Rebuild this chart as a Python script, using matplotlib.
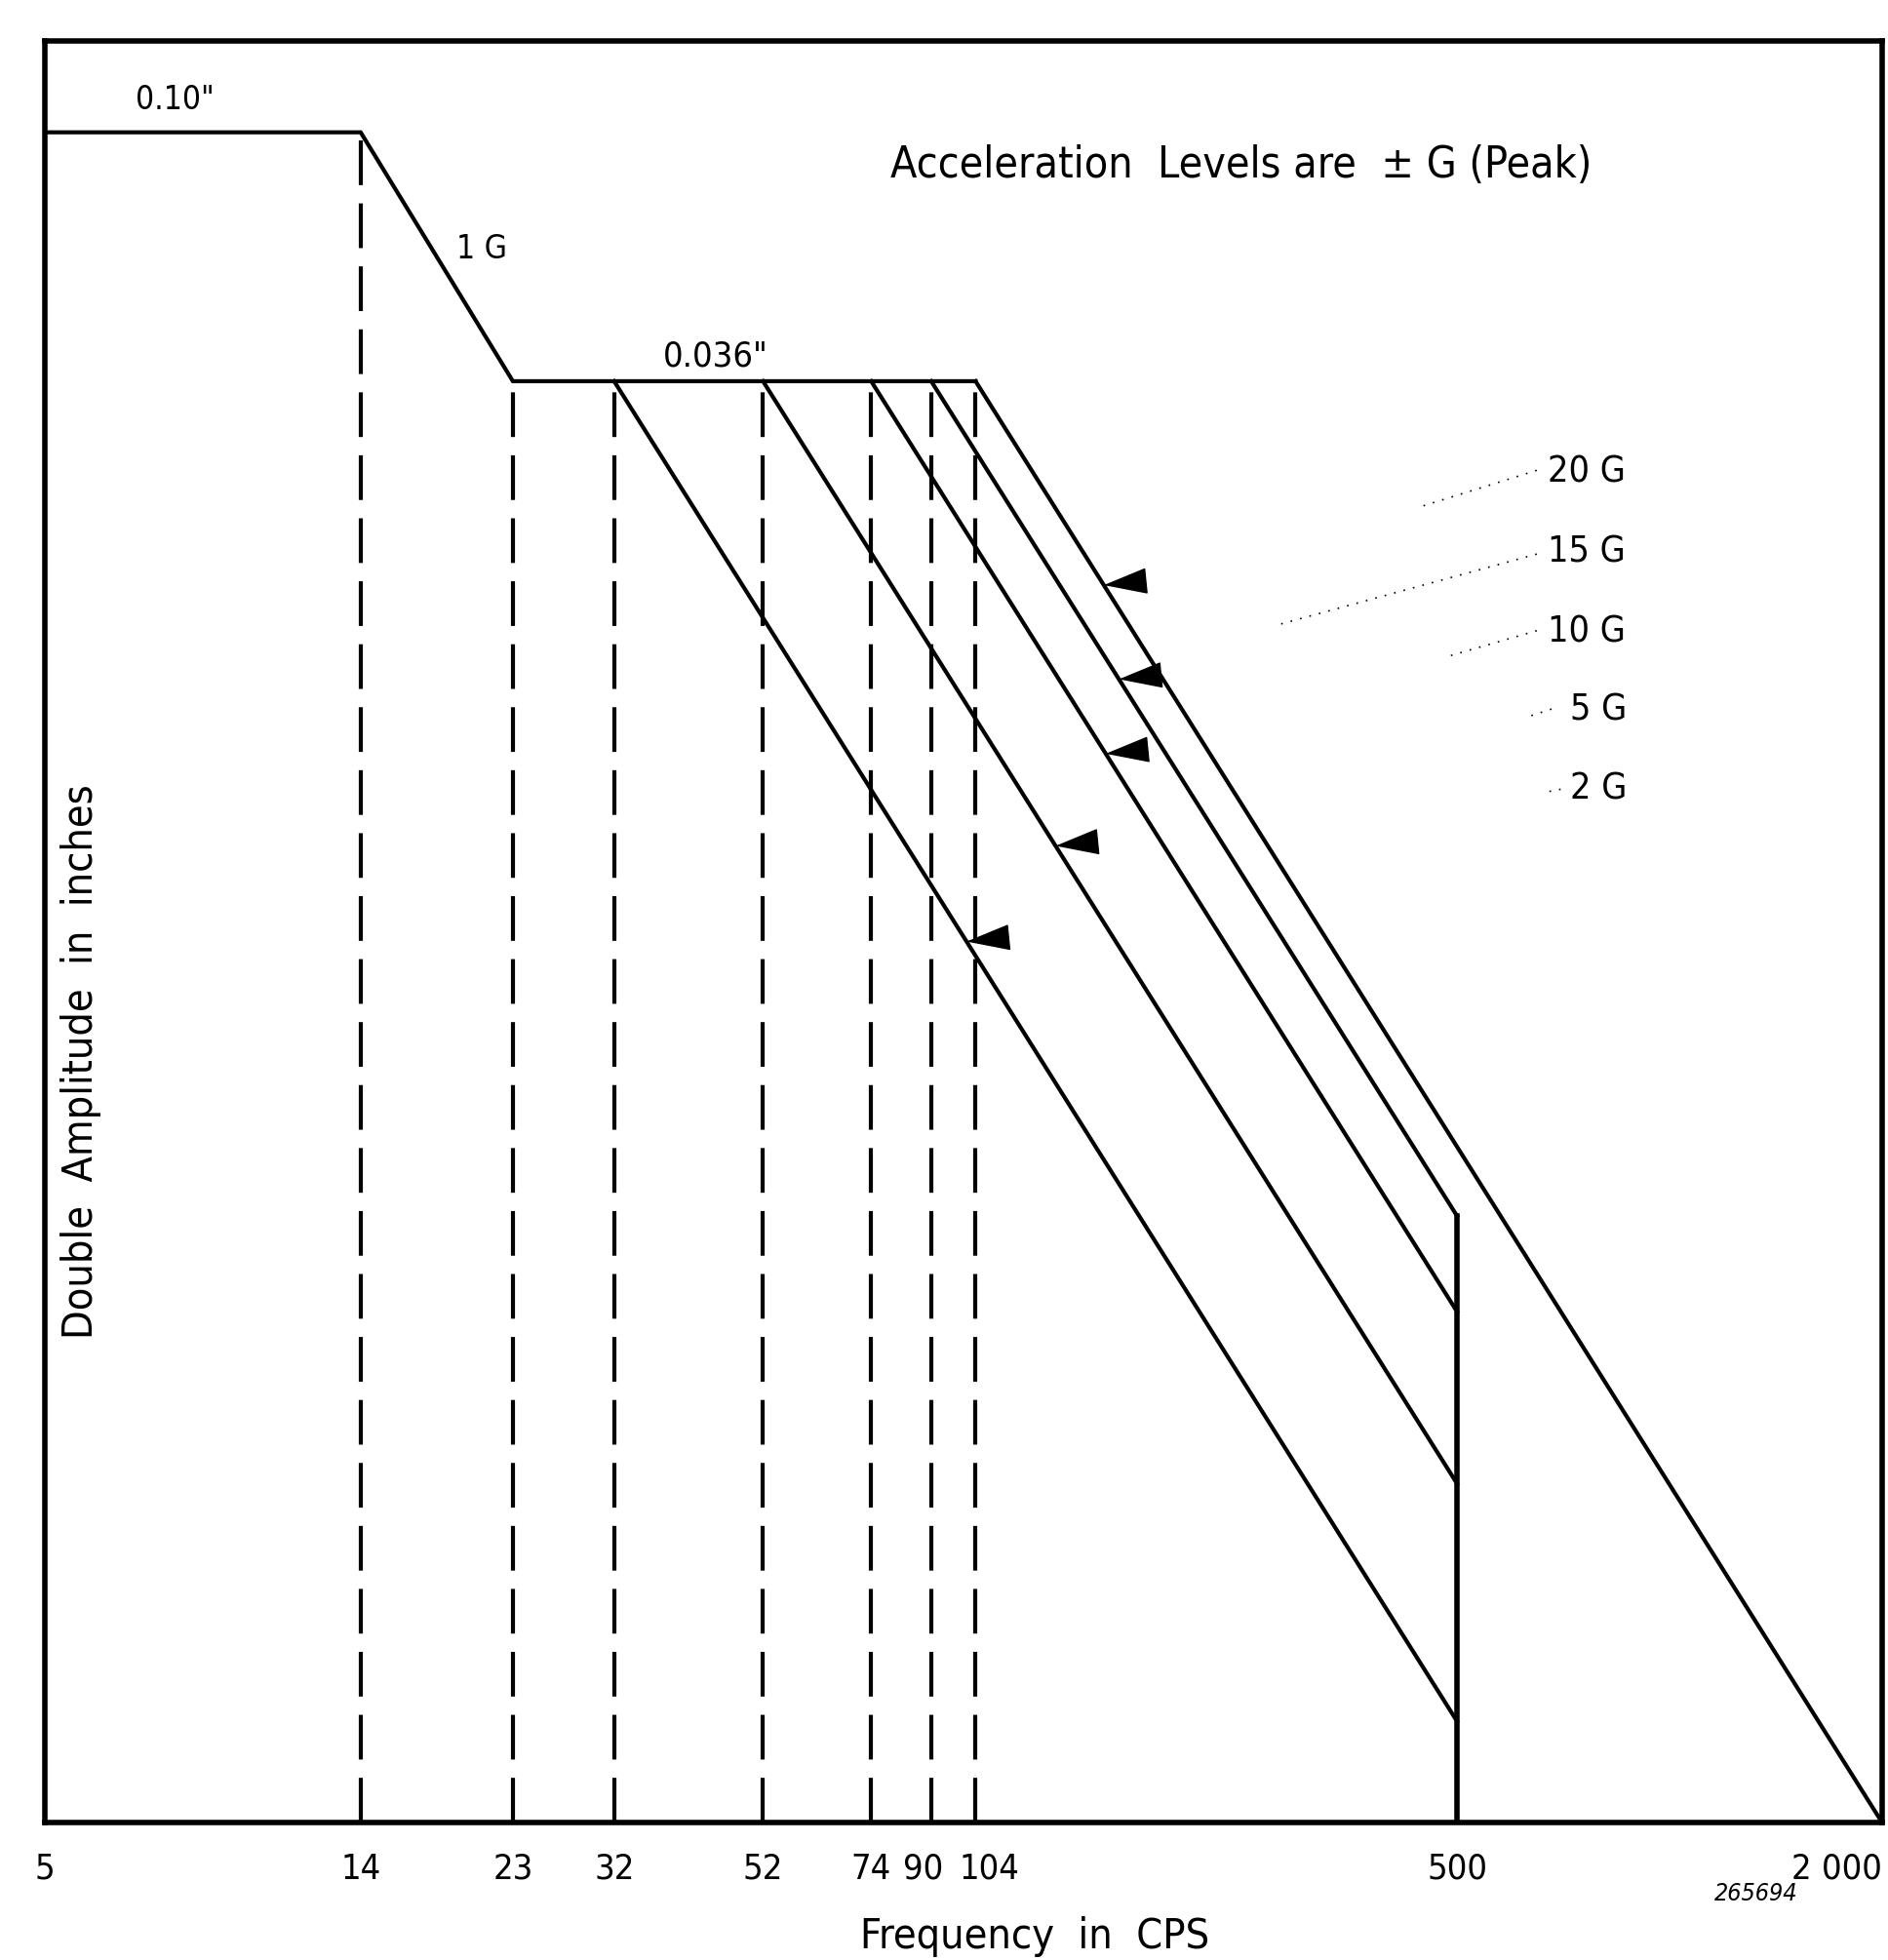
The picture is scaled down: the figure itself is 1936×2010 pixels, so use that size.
import numpy as np
import matplotlib
matplotlib.use("Agg")
import matplotlib.pyplot as plt
import matplotlib.transforms as mtransforms

# ---------------- data ----------------
tick_freqs = [5, 14, 23, 32, 52, 74, 90, 104, 500, 2000]
tick_labels = ['5', '14', '23', '32', '52', '74', '90', '104', '500', '2 000']

# displacement envelope (0.10" then 1 G slope then 0.036" plateau)
env_freq = [5, 14, 23, 104]
env_amp = [0.10, 0.10, 0.036, 0.036]

# acceleration-limited lines (slope -2 on log-log)
g_levels = ['2 G', '5 G', '10 G', '15 G', '20 G']
g_start_freq = [32, 52, 74, 90, 104]
g_start_amp = [0.036, 0.036, 0.036, 0.036, 0.036]
g_end_freq = [500, 500, 500, 500, 2000]
g_end_amp = [1.47e-4, 3.9e-4, 7.9e-4, 1.17e-3, 9.7e-5]
g_arrow_freq = [101, 135, 159, 166, 158]

# dashed verticals
dash_freq = [14, 23, 32, 52, 74, 90, 104]
dash_top = [0.10, 0.036, 0.036, 0.036, 0.036, 0.036, 0.036]

# solid cut-off at 500 cps
cut_freq = 500
cut_top = 1.17e-3

y_min, y_max = 9.7e-5, 0.1455

# ---------------- figure ----------------
plt.rcParams['font.family'] = ['DejaVu Sans']
plt.rcParams['font.stretch'] = 'condensed'
fig = plt.figure(figsize=(19.36, 20.10), dpi=100)
ax = fig.add_axes([0.0238, 0.0701, 0.9731, 0.9090])
ax.set_xscale('log')
ax.set_yscale('log')
ax.set_xlim(5, 2000)
ax.set_ylim(y_min, y_max)

LW = 3.0
ax.plot(env_freq, env_amp, color='black', lw=LW, solid_joinstyle='miter')

for f0, a0, f1, a1 in zip(g_start_freq, g_start_amp, g_end_freq, g_end_amp):
    ax.plot([f0, f1], [a0, a1], color='black', lw=LW)

for f, top in zip(dash_freq, dash_top):
    ax.plot([f, f], [y_min, top], color='black', lw=LW,
            linestyle=(0, (11, 4.5)))

ax.plot([cut_freq, cut_freq], [y_min, cut_top], color='black', lw=4.0)

# arrowheads on each acceleration line + dotted leaders
for f0, a0, f1, a1, fa in zip(g_start_freq, g_start_amp, g_end_freq,
                              g_end_amp, g_arrow_freq):
    t = (np.log10(fa) - np.log10(f0)) / (np.log10(f1) - np.log10(f0))
    ya = 10 ** (np.log10(a0) + t * (np.log10(a1) - np.log10(a0)))
    ax.annotate('', xy=(fa, ya), xytext=(30, 3), textcoords='offset points',
                arrowprops=dict(arrowstyle='-|>,head_length=1.4,head_width=0.42',
                                color='black', lw=1, shrinkA=0, shrinkB=0,
                                mutation_scale=21))

label_pos = [(0.830, 0.580), (0.830, 0.624), (0.818, 0.668),
             (0.818, 0.713), (0.818, 0.758)]
for lab, (xl, yl) in zip(g_levels, label_pos):
    ax.text(xl, yl, lab, transform=ax.transAxes, fontsize=27,
            ha='left', va='center')

leaders = [((0.825, 0.580), (0.815, 0.578)),
           ((0.820, 0.625), (0.808, 0.621)),
           ((0.812, 0.669), (0.765, 0.655)),
           ((0.812, 0.712), (0.670, 0.672)),
           ((0.812, 0.759), (0.750, 0.739))]
for (x0, y0), (x1, y1) in leaders:
    ax.plot([x0, x1], [y0, y1], transform=ax.transAxes, color='black',
            lw=1.2, linestyle=(0, (1, 5)))

# annotations
ax.text(0.071, 0.967, '0.10"', transform=ax.transAxes, fontsize=24,
        ha='center', va='center')
ax.text(0.2376, 0.883, '1 G', transform=ax.transAxes, fontsize=24,
        ha='center', va='center')
ax.text(0.365, 0.823, '0.036"', transform=ax.transAxes, fontsize=26,
        ha='center', va='center')
ax.text(0.651, 0.930, 'Acceleration  Levels are  \u00b1 G (Peak)',
        transform=ax.transAxes, fontsize=32, ha='center', va='center')
ax.text(0.0197, 0.427, 'Double  Amplitude  in  inches', transform=ax.transAxes,
        fontsize=31, rotation=90, ha='center', va='center')

# axes styling
ax.set_xticks(tick_freqs)
ax.set_xticklabels(tick_labels, fontsize=26)
ax.xaxis.set_minor_locator(matplotlib.ticker.NullLocator())
ax.yaxis.set_minor_locator(matplotlib.ticker.NullLocator())
ax.set_yticks([])
ax.tick_params(axis='x', length=0, pad=22)
for s in ax.spines.values():
    s.set_linewidth(4.0)

# nudge crowded labels like the drawing
tl = ax.get_xticklabels()
tl[6].set_transform(tl[6].get_transform() +
                    mtransforms.ScaledTranslation(-6 / 72, 0, fig.dpi_scale_trans))
tl[7].set_transform(tl[7].get_transform() +
                    mtransforms.ScaledTranslation(10 / 72, 0, fig.dpi_scale_trans))
tl[9].set_horizontalalignment('right')

fig.text(0.548, 0.012, 'Frequency  in  CPS', fontsize=31, ha='center',
         va='center')
fig.text(0.930, 0.034, '265694', fontsize=18, style='italic', ha='center',
         va='center')

fig.savefig('out.png', dpi=100, facecolor='white')
